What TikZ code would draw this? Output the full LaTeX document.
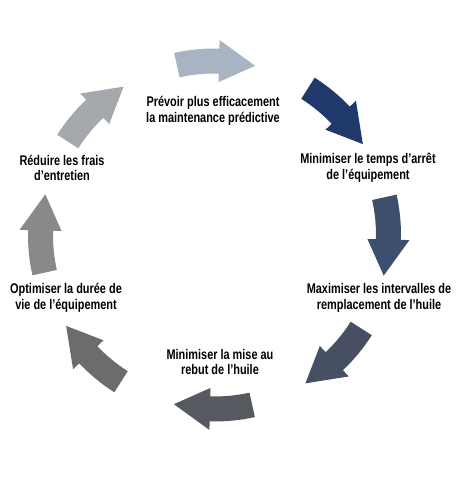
\documentclass[tikz,border=0pt]{standalone}
\usepackage{fontspec}
\setmainfont[FakeStretch=0.78]{Liberation Sans}
\definecolor{c1}{HTML}{A9B4C2}
\definecolor{c2}{HTML}{1F3A6A}
\definecolor{c3}{HTML}{3E4F6E}
\definecolor{c4}{HTML}{474F62}
\definecolor{c5}{HTML}{56595F}
\definecolor{c6}{HTML}{6C6C6E}
\definecolor{c7}{HTML}{88898B}
\definecolor{c8}{HTML}{A5A9AE}
\tikzset{lbl/.style={font=\bfseries\fontsize{14}{15.8}\selectfont, align=center, text=black, inner sep=0pt}}
\newcommand{\cycarrow}[2]{%
  \fill[#2] (#1+12.5:186.5pt) arc[start angle=#1+12.5, end angle=#1-1.5, radius=186.5pt]
    -- (#1-1.5:195pt) -- (#1-13.5:174pt) -- (#1-1.5:153pt) -- (#1-1.5:161.5pt)
    arc[start angle=#1-1.5, end angle=#1+12.5, radius=161.5pt] -- cycle;}
\begin{document}
\begin{tikzpicture}[x=1pt,y=1pt]
\useasboundingbox (0,0) rectangle (464,478);
\fill[white] (0,0) rectangle (464,478);
\begin{scope}[shift={(214.5,243)}]
\cycarrow{90}{c1}
\cycarrow{45}{c2}
\cycarrow{0}{c3}
\cycarrow{-45}{c4}
\cycarrow{-90}{c5}
\cycarrow{-135}{c6}
\cycarrow{180}{c7}
\cycarrow{135}{c8}
\end{scope}
\node[lbl] (t1) at (213,367) {Prévoir plus efficacement\\la maintenance prédictive};
\node[lbl] (t2) at (368,310) {Minimiser le temps d’arrêt\\de l’équipement};
\node[lbl] (t3) at (379,180) {Maximiser les intervalles de\\remplacement de l’huile};
\node[lbl] (t4) at (220,116) {Minimiser la mise au\\rebut de l’huile};
\node[lbl] (t5) at (66,180) {Optimiser la durée de\\vie de l’équipement};
\node[lbl] (t6) at (62,310) {Réduire les frais\\d’entretien};
\end{tikzpicture}
\end{document}
